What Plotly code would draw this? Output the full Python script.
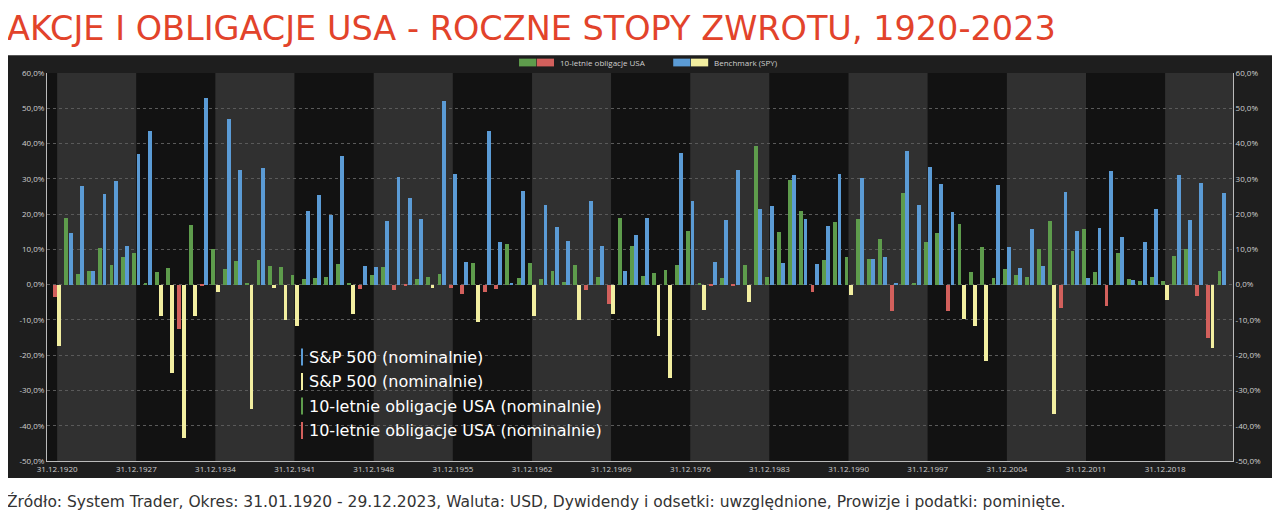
import plotly.graph_objects as go

years = list(range(1920, 2024))

spy = [-17.5, 14.5, 28.0, 4.0, 25.7, 29.5, 11.0, 37.0, 43.5, -8.8,
       -25.0, -43.5, -8.8, 53.0, -2.2, 47.0, 32.5, -35.3, 33.0, -0.9,
       -10.0, -11.7, 21.0, 25.5, 19.7, 36.5, -8.2, 5.2, 5.0, 18.0,
       30.5, 24.5, 18.5, -1.0, 52.0, 31.5, 6.5, -10.7, 43.5, 12.0,
       0.5, 26.5, -8.8, 22.6, 16.4, 12.4, -10.0, 23.8, 11.0, -8.4,
       4.0, 14.2, 18.8, -14.6, -26.5, 37.2, 23.6, -7.2, 6.5, 18.4,
       32.4, -4.9, 21.4, 22.4, 6.1, 31.2, 18.5, 5.8, 16.5, 31.5,
       -3.0, 30.2, 7.4, 7.8, 0.3, 38.0, 22.5, 33.4, 28.5, 20.5,
       -9.6, -11.8, -21.6, 28.2, 10.7, 4.8, 15.7, 5.3, -36.8, 26.3,
       15.1, 1.9, 16.0, 32.2, 13.5, 1.2, 12.0, 21.5, -4.4, 31.2,
       18.4, 28.7, -18.1, 26.0]

bonds = [-3.5, 19.0, 3.0, 3.8, 10.3, 5.5, 7.7, 9.0, 0.3, 3.7,
         4.7, -12.5, 17.0, -0.5, 10.0, 4.3, 6.8, 0.5, 7.0, 5.2,
         5.0, 2.6, 1.7, 2.0, 2.2, 5.8, 0.3, -1.2, 2.6, 5.0,
         -1.5, -0.5, 1.7, 2.2, 3.0, -1.0, -2.6, 6.0, -2.0, -1.2,
         11.5, 2.0, 6.0, 1.7, 3.9, 0.7, 5.6, -1.6, 2.2, -5.6,
         18.9, 11.0, 2.5, 3.3, 4.1, 5.6, 15.2, 0.5, -0.5, 2.0,
         -0.3, 5.6, 39.3, 2.2, 15.0, 29.6, 21.0, -2.0, 7.0, 17.7,
         7.8, 18.5, 7.2, 13.0, -7.4, 25.9, 0.2, 12.0, 14.5, -7.6,
         17.2, 3.5, 10.7, 2.0, 4.3, 2.8, 2.1, 10.2, 18.0, -6.7,
         9.4, 15.7, 3.6, -6.0, 9.0, 1.5, 1.0, 2.3, 1.0, 8.0,
         10.0, -3.3, -15.1, 3.8]

tick_years = list(range(1920, 2024, 7))
tick_labels = [f"31.12.{y}" for y in tick_years]
y_ticks = list(range(-50, 61, 10))
y_labels = [f"{v},0%" for v in y_ticks]

BLUE, YELLOW, GREEN, RED = "#5b9bd5", "#f2eea0", "#5e9c4c", "#d2605c"

fig = go.Figure()
fig.add_trace(go.Bar(x=years, y=bonds, width=0.34, offset=-0.36,
                     marker_color=[GREEN if v >= 0 else RED for v in bonds],
                     marker_line_width=0, name="10-letnie obligacje USA"))
fig.add_trace(go.Bar(x=years, y=spy, width=0.34, offset=0.02,
                     marker_color=[BLUE if v >= 0 else YELLOW for v in spy],
                     marker_line_width=0, name="Benchmark (SPY)"))
# invisible trace to show right axis
fig.add_trace(go.Scatter(x=[years[0]], y=[0], yaxis="y2", mode="markers",
                         marker_opacity=0, showlegend=False, hoverinfo="skip"))

shapes = [dict(type="rect", xref="paper", yref="paper", x0=-0.033, x1=1.033,
               y0=-0.044, y1=1.046, fillcolor="#1e1e1e", line_width=0, layer="below")]
# alternating 7-year bands
edges = [1919.1] + tick_years + [2024.0]
for i in range(len(edges) - 1):
    shapes.append(dict(type="rect", xref="x", yref="paper", x0=edges[i], x1=edges[i + 1],
                       y0=0, y1=1, line_width=0, layer="below",
                       fillcolor="#121212" if i % 2 == 0 else "#303030"))

# top legend swatches
sw = [(0.398, GREEN), (0.413, RED), (0.528, BLUE), (0.543, YELLOW)]
for x0, c in sw:
    shapes.append(dict(type="rect", xref="paper", yref="paper", x0=x0, x1=x0 + 0.0145,
                       y0=1.017, y1=1.037, fillcolor=c, line_width=0))

ann = [
    dict(text="10-letnie obligacje USA", x=0.431, y=1.027, xanchor="left"),
    dict(text="Benchmark (SPY)", x=0.561, y=1.027, xanchor="left"),
]
annotations = [dict(xref="paper", yref="paper", showarrow=False, yanchor="middle",
                    font=dict(size=8, color="#cfcfcf"), **a) for a in ann]

# inner legend
inner = [("S&P 500 (nominalnie)", BLUE), ("S&P 500 (nominalnie)", YELLOW),
         ("10-letnie obligacje USA (nominalnie)", GREEN), ("10-letnie obligacje USA (nominalnie)", RED)]
for i, (t, c) in enumerate(inner):
    yy = (461 - (357 + i * 24.5)) / 388
    shapes.append(dict(type="line", xref="paper", yref="paper", x0=(302 - 47) / 1186, x1=(302 - 47) / 1186,
                       y0=yy - 0.022, y1=yy + 0.022, line=dict(color=c, width=2)))
    annotations.append(dict(xref="paper", yref="paper", x=(307 - 47) / 1186, y=yy, text=t,
                            showarrow=False, xanchor="left", yanchor="middle",
                            font=dict(size=16, color="white", family="DejaVu Sans")))

annotations.append(dict(xref="paper", yref="paper", x=(5 - 47) / 1186, y=(461 - 29) / 388,
                        text="AKCJE I OBLIGACJE USA - ROCZNE STOPY ZWROTU, 1920-2023",
                        showarrow=False, xanchor="left", yanchor="middle",
                        font=dict(size=33.5, color="#e2432b", family="DejaVu Sans")))
annotations.append(dict(xref="paper", yref="paper", x=(5 - 47) / 1186, y=(461 - 501) / 388,
                        text="Źródło: System Trader, Okres: 31.01.1920 - 29.12.2023, Waluta: USD, "
                             "Dywidendy i odsetki: uwzględnione, Prowizje i podatki: pominięte.",
                        showarrow=False, xanchor="left", yanchor="middle",
                        font=dict(size=15.5, color="#333333", family="DejaVu Sans")))

yax = dict(range=[-50, 60], tickvals=y_ticks, ticktext=y_labels, showgrid=True,
           gridcolor="#5a5a5a", griddash="dot", gridwidth=1, zeroline=False,
           tickfont=dict(size=8, color="#cfcfcf"), showline=True, linecolor="#bbbbbb",
           ticks="", fixedrange=True, automargin=False)

# page body has an 8px margin, so the figure is trimmed by 8px on the left/top
fig.update_layout(
    width=1272, height=510,
    margin=dict(l=39, r=47, t=65, b=57),
    paper_bgcolor="white", plot_bgcolor="rgba(0,0,0,0)",
    barmode="overlay", showlegend=False, bargap=0,
    font=dict(family="Open Sans"),
    xaxis=dict(range=[1919.1, 2024.0], tickvals=tick_years, ticktext=tick_labels,
               showgrid=False, zeroline=False, showline=True, linecolor="#bbbbbb",
               tickfont=dict(size=8, color="#cfcfcf"), ticks="", automargin=False),
    yaxis=yax,
    yaxis2=dict(yax, overlaying="y", side="right", showgrid=False),
    shapes=shapes, annotations=annotations,
)

fig.write_html("out.html")
